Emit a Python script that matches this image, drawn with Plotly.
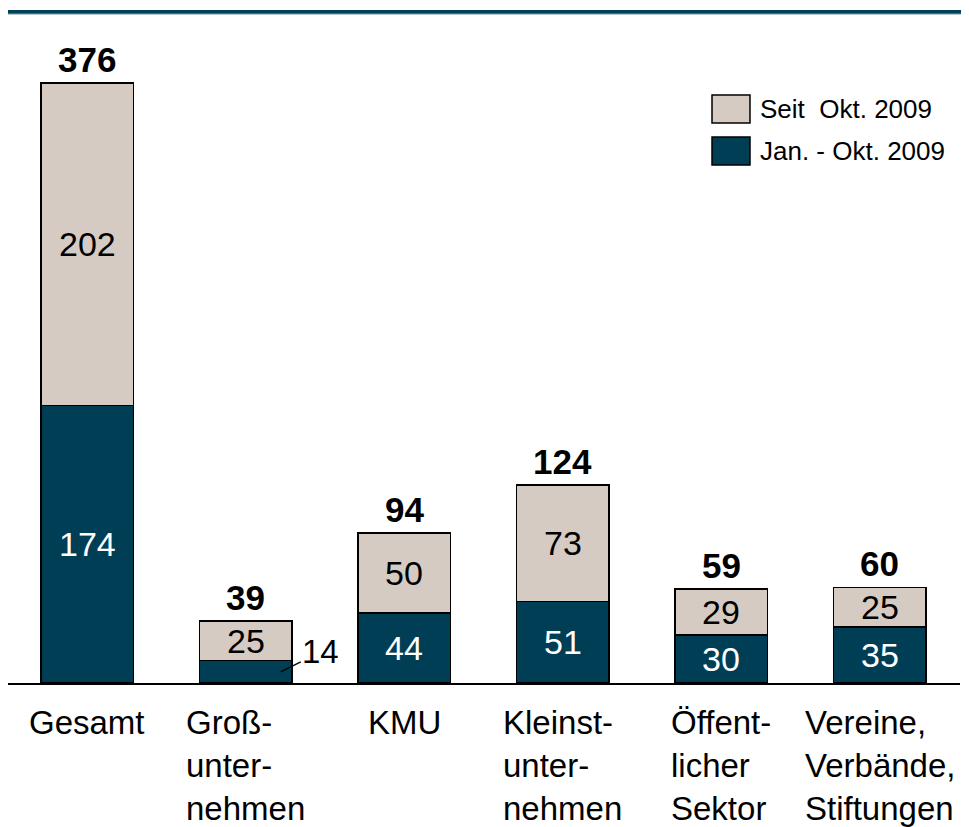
import plotly.graph_objects as go

categories = ["Gesamt", "Groß-<br>unter-<br>nehmen", "KMU", "Kleinst-<br>unter-<br>nehmen",
              "Öffent-<br>licher<br>Sektor", "Vereine,<br>Verbände,<br>Stiftungen"]
jan_okt = [174, 14, 44, 51, 30, 35]
seit_okt = [202, 25, 50, 73, 29, 25]
totals = [376, 39, 94, 124, 59, 60]
series_names = ["Seit  Okt. 2009", "Jan. - Okt. 2009"]

DARK = "#003e56"
LIGHT = "#d5cbc3"
FONT = "Liberation Sans, Arial, sans-serif"

xs = list(range(len(categories)))

fig = go.Figure()
fig.add_trace(go.Bar(x=xs, y=jan_okt, marker=dict(color=DARK, line=dict(color="black", width=1.5)),
                     width=0.585, name=series_names[1], showlegend=False))
fig.add_trace(go.Bar(x=xs, y=seit_okt, marker=dict(color=LIGHT, line=dict(color="black", width=1.5)),
                     width=0.585, name=series_names[0], showlegend=False))

ann = []
for i in xs:
    if jan_okt[i] >= 20:
        ann.append(dict(x=i, y=jan_okt[i] / 2, text=str(jan_okt[i]), showarrow=False,
                        font=dict(size=34, color="white", family=FONT)))
    else:
        ann.append(dict(x=i, y=jan_okt[i] / 2, text=str(jan_okt[i]), showarrow=True,
                        arrowhead=0, arrowwidth=1.3, arrowcolor="black", xshift=35,
                        ax=40, ay=-20, standoff=0,
                        font=dict(size=33, color="black", family=FONT)))
    ann.append(dict(x=i, y=jan_okt[i] + seit_okt[i] / 2, text=str(seit_okt[i]), showarrow=False,
                    font=dict(size=34, color="black", family=FONT)))
    ann.append(dict(x=i, y=totals[i], text="<b>%d</b>" % totals[i], showarrow=False,
                    yanchor="bottom", yshift=2, font=dict(size=35, color="black", family=FONT)))
    ann.append(dict(x=i, y=0, yref="paper", text=categories[i], showarrow=False, align="left",
                    yanchor="top", yshift=-19, font=dict(size=33, color="black", family=FONT)))

legend_cols = [LIGHT, DARK]
legend_y = [(0.9005, 0.8576), (0.8361, 0.7933)]
shapes = []
for col, (y1, y0), name in zip(legend_cols, legend_y, series_names):
    shapes.append(dict(type="rect", xref="paper", yref="paper", x0=0.7395, x1=0.7794, y0=y0, y1=y1,
                       fillcolor=col, line=dict(color="black", width=1.5)))
    ann.append(dict(xref="paper", yref="paper", x=0.7875, y=(y0 + y1) / 2, text=name, showarrow=False,
                    xanchor="left", yanchor="middle", font=dict(size=26, color="black", family=FONT)))

shapes.append(dict(type="rect", xref="paper", yref="paper", x0=-0.01, x1=1.02, y0=1.0245, y1=1.0306,
                   fillcolor="#00405a", line=dict(width=0)))
shapes.append(dict(type="line", xref="paper", yref="paper", x0=-0.01, x1=1.02, y0=1.0245, y1=1.0245,
                   line=dict(color="#6f97a6", width=1)))

fig.update_layout(
    width=961, height=819, barmode="stack",
    margin=dict(l=0, r=9, t=22, b=144),
    paper_bgcolor="white", plot_bgcolor="white",
    xaxis=dict(range=[-0.5, 5.506], showticklabels=False, showgrid=False, zeroline=False,
               showline=True, linecolor="black", linewidth=2, ticks=""),
    yaxis=dict(range=[0, 409.2], visible=False),
    annotations=ann, shapes=shapes,
    font=dict(family=FONT),
)
fig.write_html("out.html")
